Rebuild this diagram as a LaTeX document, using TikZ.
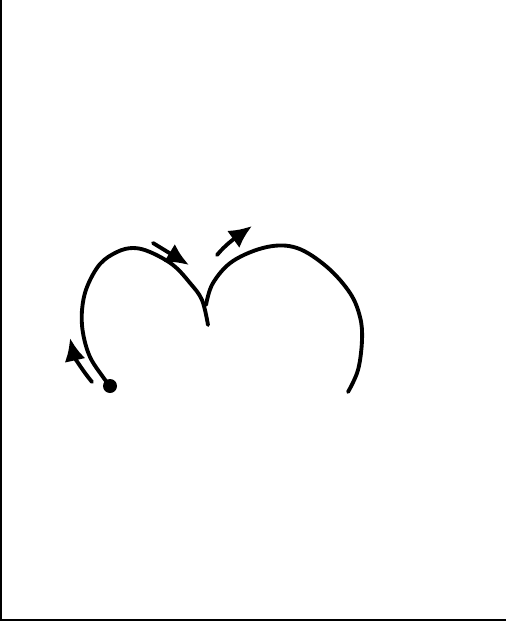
\documentclass[tikz,border=0pt]{standalone}
\usetikzlibrary{arrows.meta}

\tikzset{
  stroke/.style={line width=2.2pt, line cap=round, line join=round},
  arrowline/.style={stroke, -{Latex[length=13pt, width=12pt]}},
}

\begin{document}
\begin{tikzpicture}[x=0.02cm, y=-0.02cm, >=stealth]
    \useasboundingbox (0,0) rectangle (506,622);
    % frame on two sides
    \draw[line width=1.3pt] (1,0) -- (1,620) -- (506,620);

    % left lobe, from the start dot up over the top to the cusp
    \draw[stroke] plot[smooth, tension=0.6] coordinates {
        (110,386) (103,377) (90,357) (83,333) (82,310) (87,287)
        (100,264) (117,252) (133,248) (150,252) (173,265) (190,283)
        (202,300) (208,325)};

    % right lobe, from the cusp round to the free end
    \draw[stroke] plot[smooth, tension=0.6] coordinates {
        (206,305) (213,283) (233,261) (267,247) (297,248) (327,267)
        (350,293) (360,317) (362,340) (358,370) (348,392)};

    % start point
    \fill (110,386) circle (7);

    % direction arrows
    \coordinate (la) at (92,382);
    \coordinate (lb) at (70,338);
    \draw[arrowline] (la) .. controls (82,370) and (74,356) .. (lb);

    \coordinate (ta) at (153,243);
    \coordinate (tb) at (189,265);
    \draw[arrowline] (ta) -- (tb);

    \coordinate (ra) at (217,255);
    \coordinate (rb) at (252,226);
    \draw[arrowline] (ra) .. controls (226,244) and (238,236) .. (rb);
\end{tikzpicture}
\end{document}
